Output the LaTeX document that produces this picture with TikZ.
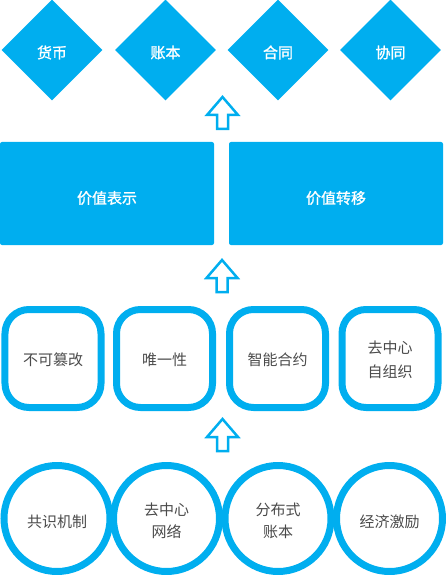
\documentclass[tikz,border=0pt]{standalone}
\usepackage{fontspec}
\newfontfamily\cjk{Noto Sans CJK SC}
\newfontfamily\cjkb[FakeBold=1.2]{Noto Sans CJK SC}
\usetikzlibrary{shapes.geometric}
\definecolor{sky}{HTML}{00AEEF}
\definecolor{txtgray}{HTML}{4A4A4A}
% #1 = twice the downward shift, #2 = line distance, #3 = lines separated by \cr
\newcommand\txt[3]{\raisebox{0pt}[\dimexpr\height+#1\relax][\depth]{\vbox{\baselineskip=#2\relax\lineskiplimit=-100pt\halign{\hfil##\hfil\cr#3\cr}}}}
\tikzset{
  lbl/.style={font=\cjk\fontsize{15bp}{23bp}\selectfont},
  lblb/.style={font=\cjkb\fontsize{15bp}{23bp}\selectfont},
  diam/.style={diamond, fill=sky, draw=none, minimum width=101bp, minimum height=101bp, inner sep=0pt, lblb, text=white},
  vbox/.style={rectangle, fill=sky, draw=none, rounded corners=2bp, minimum width=214bp, minimum height=103bp, inner sep=0pt, lblb, text=white},
  rbox/.style={rectangle, draw=sky, line width=7bp, rounded corners=24bp, minimum width=96bp, minimum height=98bp, inner sep=0pt, lbl, text=txtgray},
  ring/.style={circle, draw=sky, line width=7bp, minimum size=106bp, inner sep=0pt, lbl, text=txtgray},
  arrowline/.style={draw=sky, line width=2.5bp, line join=miter},
  uparrow/.pic={\path[arrowline] (0,0) -- (15.5,18) -- (5.5,18) -- (5.5,32) -- (-5.5,32) -- (-5.5,18) -- (-15.5,18) -- cycle;}
}
\begin{document}
\begin{tikzpicture}[x=1bp,y=-1bp]
\useasboundingbox (0,0) rectangle (446,575);
% top: diamonds
\node[diam] (d1) at (52,50) {\txt{5bp}{23bp}{货币}};
\node[diam] (d2) at (165.5,50) {\txt{5bp}{23bp}{账本}};
\node[diam] (d3) at (278,50) {\txt{5bp}{23bp}{合同}};
\node[diam] (d4) at (390.5,50) {\txt{5bp}{23bp}{协同}};
% value layer
\node[vbox] (r1) at (107,193.5) {\txt{9bp}{23bp}{价值表示}};
\node[vbox] (r2) at (336,193.5) {\txt{9bp}{23bp}{价值转移}};
% properties
\node[rbox] (s1) at (53,358.5) {\txt{3bp}{24bp}{不可篡改}};
\node[rbox] (s2) at (164.5,358.5) {\txt{3bp}{24bp}{唯一性}};
\node[rbox] (s3) at (277.5,358.5) {\txt{3bp}{24bp}{智能合约}};
\node[rbox] (s4) at (390,358.5) {\txt{3bp}{24bp}{去中心\cr 自组织}};
% base
\node[ring] (c1) at (57,518.5) {\txt{6bp}{21.5bp}{共识机制}};
\node[ring] (c2) at (166.5,518.5) {\txt{5bp}{21.5bp}{去中心\cr 网络}};
\node[ring] (c3) at (278,518.5) {\txt{5bp}{21.5bp}{分布式\cr 账本}};
\node[ring] (c4) at (389.5,518.5) {\txt{6bp}{21.5bp}{经济激励}};
% arrows
\pic at (222.5,97) {uparrow};
\pic at (222,260) {uparrow};
\pic at (222.5,419) {uparrow};
\end{tikzpicture}
\end{document}
